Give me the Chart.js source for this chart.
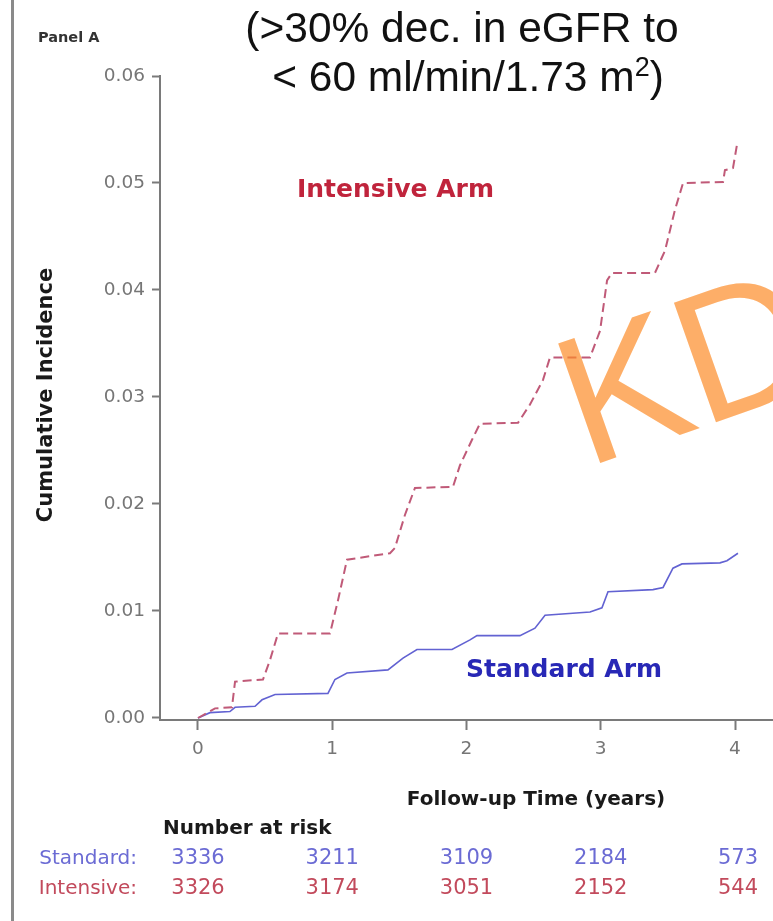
<!DOCTYPE html>
<html>
<head>
<meta charset="utf-8">
<script src="https://cdn.jsdelivr.net/npm/chart.js@4.4.1/dist/chart.umd.min.js"></script>
<style>
  html, body { margin: 0; padding: 0; background: #ffffff; }
  canvas { display: block; }
</style>
</head>
<body>
<canvas id="km" width="773" height="921"></canvas>
<script>
// Cumulative incidence of >30% eGFR decline to <60, by treatment arm
const intensiveTime = [0, 0.127, 0.253, 0.276, 0.484, 0.536, 0.596, 0.983, 1.043, 1.110, 1.430, 1.467, 1.542, 1.616, 1.899, 1.951, 2.041, 2.100, 2.384, 2.473, 2.570, 2.622, 2.920, 2.995, 3.047, 3.084, 3.404, 3.479, 3.553, 3.613, 3.911, 3.925, 3.985, 4.015];
const intensiveCumInc = [0, 0.0009, 0.0010, 0.0034, 0.0036, 0.0054, 0.0079, 0.0079, 0.0110, 0.0148, 0.0154, 0.0159, 0.0190, 0.0215, 0.0216, 0.0236, 0.0260, 0.0275, 0.0276, 0.0293, 0.0316, 0.0337, 0.0337, 0.0362, 0.0409, 0.0416, 0.0416, 0.0437, 0.0475, 0.0500, 0.0501, 0.0512, 0.0514, 0.0536];

const standardTime = [0, 0.089, 0.238, 0.276, 0.425, 0.477, 0.574, 0.968, 1.020, 1.110, 1.415, 1.527, 1.631, 1.892, 2.026, 2.078, 2.398, 2.510, 2.585, 2.920, 3.009, 3.054, 3.389, 3.464, 3.538, 3.605, 3.888, 3.940, 4.022];
const standardCumInc = [0, 0.0005, 0.0006, 0.0010, 0.0011, 0.0017, 0.0022, 0.0023, 0.0036, 0.0042, 0.0045, 0.0056, 0.0064, 0.0064, 0.0073, 0.0077, 0.0077, 0.0084, 0.0096, 0.0099, 0.0103, 0.0118, 0.0120, 0.0122, 0.0140, 0.0144, 0.0145, 0.0147, 0.0154];

const xTicks = [0, 1, 2, 3, 4];
const yTicks = [0, 0.01, 0.02, 0.03, 0.04, 0.05, 0.06];

const riskTimes = [0, 1, 2, 3, 4];
const riskStandard = [3336, 3211, 3109, 2184, 573];
const riskIntensive = [3326, 3174, 3051, 2152, 544];

const toPoints = (xs, ys) => xs.map((x, i) => ({ x: x, y: ys[i] }));

const AXIS_GREY = '#7a7a7a';
const TICK_TEXT = '#767676';
const DV = 'DejaVu Sans';
const TITLE_FONT = '42.5px "Liberation Sans", Arial, sans-serif';

const decorations = {
  id: 'decorations',
  beforeDraw(chart) {
    const ctx = chart.ctx;
    ctx.save();
    ctx.fillStyle = '#ffffff';
    ctx.fillRect(0, 0, chart.width, chart.height);
    // frame line at the left edge
    ctx.fillStyle = '#8a8a8a';
    ctx.fillRect(11, 0, 3, chart.height);
    ctx.restore();
  },
  afterDatasetsDraw(chart) {
    const ctx = chart.ctx;
    const xs = chart.scales.x;
    ctx.save();

    // heading
    ctx.fillStyle = '#111111';
    ctx.textBaseline = 'alphabetic';
    ctx.textAlign = 'center';
    ctx.font = TITLE_FONT;
    ctx.fillText('(>30% dec. in eGFR to', 462, 42);
    const main = '< 60 ml/min/1.73 m';
    const supFont = '27px "Liberation Sans", Arial, sans-serif';
    const mainW = ctx.measureText(main).width;
    const closeW = ctx.measureText(')').width;
    ctx.font = supFont;
    const supW = ctx.measureText('2').width;
    const left = 468 - (mainW + supW + closeW) / 2;
    ctx.textAlign = 'left';
    ctx.font = TITLE_FONT;
    ctx.fillText(main, left, 91);
    ctx.font = supFont;
    ctx.fillText('2', left + mainW, 76);
    ctx.font = TITLE_FONT;
    ctx.fillText(')', left + mainW + supW, 91);

    // panel tag
    ctx.fillStyle = '#333333';
    ctx.font = 'bold 14.5px "' + DV + '"';
    ctx.textBaseline = 'middle';
    ctx.fillText('Panel A', 38, 38);

    // axis titles
    ctx.fillStyle = '#1a1a1a';
    ctx.font = 'bold 20px "' + DV + '"';
    ctx.textAlign = 'center';
    ctx.fillText('Follow-up Time (years)', 536, 800);
    ctx.save();
    ctx.translate(47, 395);
    ctx.rotate(-Math.PI / 2);
    ctx.font = 'bold 21px "' + DV + '"';
    ctx.fillText('Cumulative Incidence', 0, 0);
    ctx.restore();

    // curve labels
    ctx.textAlign = 'left';
    ctx.font = 'bold 25px "' + DV + '"';
    ctx.fillStyle = '#c0243c';
    ctx.fillText('Intensive Arm', 297, 190);
    ctx.fillStyle = '#2828b6';
    ctx.fillText('Standard Arm', 466, 670);

    // number at risk table
    ctx.fillStyle = '#1a1a1a';
    ctx.font = 'bold 20px "' + DV + '"';
    ctx.fillText('Number at risk', 163, 829);
    ctx.font = '20px "' + DV + '"';
    ctx.textAlign = 'right';
    ctx.fillStyle = '#6b6bd4';
    ctx.fillText('Standard:', 137, 859);
    ctx.fillStyle = '#c24a5c';
    ctx.fillText('Intensive:', 137, 889);
    ctx.font = '21px "' + DV + '"';
    ctx.textAlign = 'center';
    riskTimes.forEach((t, i) => {
      const px = xs.getPixelForValue(t) + (i === riskTimes.length - 1 ? 3 : 0);
      ctx.fillStyle = '#6b6bd4';
      ctx.fillText(String(riskStandard[i]), px, 859);
      ctx.fillStyle = '#c24a5c';
      ctx.fillText(String(riskIntensive[i]), px, 889);
    });

    // watermark
    ctx.save();
    ctx.translate(586, 468);
    ctx.rotate(-19.4 * Math.PI / 180);
    ctx.textAlign = 'left';
    ctx.textBaseline = 'alphabetic';
    ctx.font = '184px "Liberation Sans", Arial, sans-serif';
    ctx.fillStyle = 'rgba(252, 140, 40, 0.7)';
    ctx.fillText('KD', 0, 0);
    ctx.restore();

    ctx.restore();
  }
};

new Chart(document.getElementById('km'), {
  type: 'line',
  data: {
    datasets: [
      {
        label: 'Intensive Arm',
        data: toPoints(intensiveTime, intensiveCumInc),
        borderColor: '#c05a78',
        borderWidth: 2,
        borderDash: [9, 5],
        pointRadius: 0,
        tension: 0,
        fill: false
      },
      {
        label: 'Standard Arm',
        data: toPoints(standardTime, standardCumInc),
        borderColor: '#6262d2',
        borderWidth: 1.6,
        pointRadius: 0,
        tension: 0,
        fill: false
      }
    ]
  },
  options: {
    responsive: false,
    animation: false,
    devicePixelRatio: 1,
    layout: { padding: { top: 76, bottom: 151, left: 0, right: 0 } },
    plugins: {
      legend: { display: false },
      title: { display: false },
      tooltip: { enabled: false }
    },
    scales: {
      x: {
        type: 'linear',
        min: -0.283,
        max: 4.283,
        afterBuildTicks: s => { s.ticks = xTicks.map(v => ({ value: v })); },
        afterFit: s => { s.height = 50; },
        grid: { display: true, drawOnChartArea: false, drawTicks: true, tickLength: 10, tickColor: AXIS_GREY, tickWidth: 2 },
        border: { display: true, color: AXIS_GREY, width: 2 },
        ticks: { color: TICK_TEXT, font: { family: DV, size: 18.5 }, padding: 8, maxRotation: 0, autoSkip: false, callback: v => String(v) }
      },
      y: {
        type: 'linear',
        min: -0.000187,
        max: 0.06,
        afterBuildTicks: s => { s.ticks = yTicks.map(v => ({ value: v })); },
        afterFit: s => { s.width = 160; },
        grid: { display: true, drawOnChartArea: false, drawTicks: true, tickLength: 8, tickColor: AXIS_GREY, tickWidth: 2 },
        border: { display: true, color: AXIS_GREY, width: 2 },
        ticks: { color: TICK_TEXT, font: { family: DV, size: 18.5 }, padding: 7, autoSkip: false, callback: v => Number(v).toFixed(2) }
      }
    }
  },
  plugins: [decorations]
});
</script>
</body>
</html>
